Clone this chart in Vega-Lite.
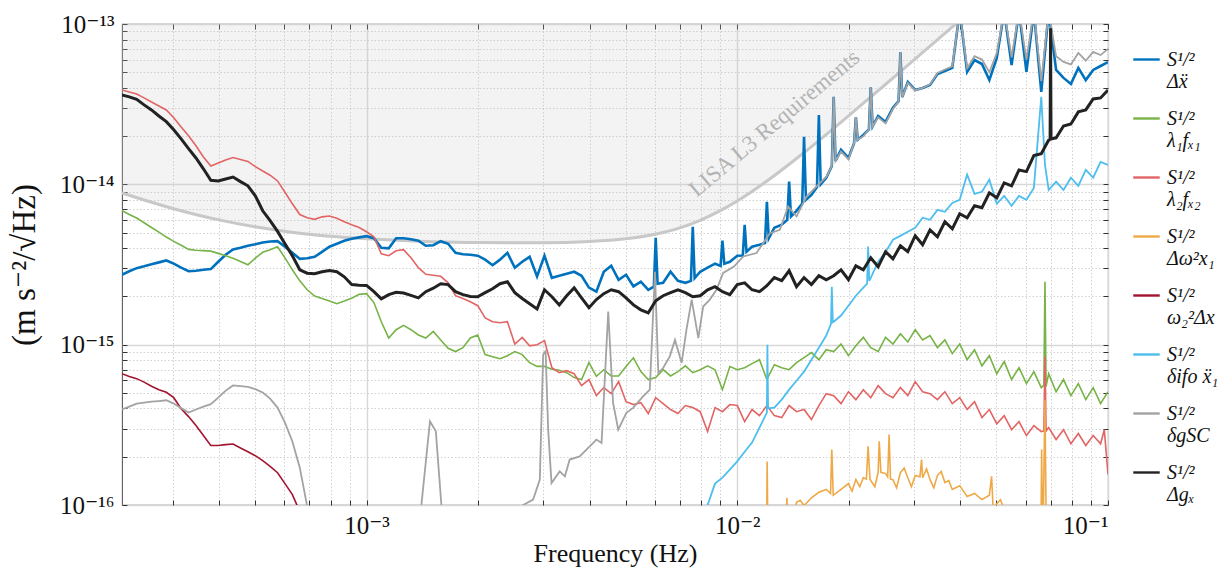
{
"$schema": "https://vega.github.io/schema/vega-lite/v6.json",
"width": 986, "height": 481,
"autosize": "none",
"padding": {"left": 122, "top": 24, "right": 121, "bottom": 64},
"background": "white",
"config": {
  "view": {"stroke": "#5c5c5c", "strokeWidth": 1.1},
  "font": "'Liberation Serif', 'DejaVu Serif', serif",
  "axis": {"labelFont": "'Liberation Serif', 'DejaVu Serif', serif", "titleFont": "'Liberation Serif', 'DejaVu Serif', serif", "titleFontWeight": "normal", "labelColor": "#111111", "titleColor": "#111111"}
},
"datasets": {
"req": [{"f":2.19e-4,"v":8.83e-15},{"f":2.5e-4,"v":8.01e-15},{"f":3e-4,"v":7.07e-15},{"f":3.5e-4,"v":6.44e-15},{"f":4e-4,"v":6.0e-15},{"f":5e-4,"v":5.43e-15},{"f":6e-4,"v":5.10e-15},{"f":7e-4,"v":4.89e-15},{"f":8e-4,"v":4.74e-15},{"f":1e-3,"v":4.57e-15},{"f":1.5e-3,"v":4.39e-15},{"f":2e-3,"v":4.335e-15},{"f":3e-3,"v":4.32e-15},{"f":4e-3,"v":4.395e-15},{"f":5e-3,"v":4.57e-15},{"f":6e-3,"v":4.88e-15},{"f":7e-3,"v":5.35e-15},{"f":8e-3,"v":6.01e-15},{"f":9e-3,"v":6.85e-15},{"f":1e-2,"v":7.87e-15},{"f":1.2e-2,"v":1.045e-14},{"f":1.5e-2,"v":1.551e-14},{"f":1.75e-2,"v":2.074e-14},{"f":2e-2,"v":2.686e-14},{"f":2.25e-2,"v":3.383e-14},{"f":2.5e-2,"v":4.165e-14},{"f":2.75e-2,"v":5.03e-14},{"f":3e-2,"v":5.98e-14},{"f":3.25e-2,"v":7.01e-14},{"f":3.5e-2,"v":8.13e-14},{"f":3.75e-2,"v":9.33e-14},{"f":4e-2,"v":1.0615e-13},{"f":4.5e-2,"v":1.343e-13}],
"dx": [{"f":2.188e-4,"v":2.73e-15},{"f":2.291e-4,"v":2.87e-15},{"f":2.399e-4,"v":3.00e-15},{"f":2.512e-4,"v":3.08e-15},{"f":2.630e-4,"v":3.17e-15},{"f":2.754e-4,"v":3.26e-15},{"f":2.884e-4,"v":3.35e-15},{"f":3.020e-4,"v":3.20e-15},{"f":3.162e-4,"v":3.02e-15},{"f":3.311e-4,"v":2.87e-15},{"f":3.467e-4,"v":2.89e-15},{"f":3.631e-4,"v":2.93e-15},{"f":3.802e-4,"v":2.96e-15},{"f":3.981e-4,"v":3.29e-15},{"f":4.169e-4,"v":3.64e-15},{"f":4.365e-4,"v":3.92e-15},{"f":4.571e-4,"v":4.02e-15},{"f":4.786e-4,"v":4.14e-15},{"f":5.012e-4,"v":4.23e-15},{"f":5.248e-4,"v":4.34e-15},{"f":5.495e-4,"v":4.40e-15},{"f":5.754e-4,"v":4.42e-15},{"f":6.026e-4,"v":4.08e-15},{"f":6.310e-4,"v":3.74e-15},{"f":6.607e-4,"v":3.43e-15},{"f":6.918e-4,"v":3.46e-15},{"f":7.244e-4,"v":3.53e-15},{"f":7.586e-4,"v":3.79e-15},{"f":7.943e-4,"v":4.08e-15},{"f":8.318e-4,"v":4.26e-15},{"f":8.710e-4,"v":4.45e-15},{"f":9.120e-4,"v":4.58e-15},{"f":9.550e-4,"v":4.67e-15},{"f":1.000e-3,"v":4.75e-15},{"f":1.047e-3,"v":4.61e-15},{"f":1.096e-3,"v":4.02e-15},{"f":1.148e-3,"v":3.99e-15},{"f":1.202e-3,"v":4.61e-15},{"f":1.259e-3,"v":4.61e-15},{"f":1.318e-3,"v":4.54e-15},{"f":1.380e-3,"v":4.45e-15},{"f":1.445e-3,"v":4.14e-15},{"f":1.514e-3,"v":4.17e-15},{"f":1.585e-3,"v":4.42e-15},{"f":1.660e-3,"v":4.26e-15},{"f":1.738e-3,"v":3.74e-15},{"f":1.820e-3,"v":3.66e-15},{"f":1.905e-3,"v":3.64e-15},{"f":1.995e-3,"v":3.59e-15},{"f":2.089e-3,"v":3.39e-15},{"f":2.188e-3,"v":3.13e-15},{"f":2.291e-3,"v":3.39e-15},{"f":2.399e-3,"v":3.74e-15},{"f":2.512e-3,"v":3.02e-15},{"f":2.630e-3,"v":3.29e-15},{"f":2.754e-3,"v":3.53e-15},{"f":2.884e-3,"v":2.66e-15},{"f":3.020e-3,"v":3.59e-15},{"f":3.162e-3,"v":2.61e-15},{"f":3.311e-3,"v":2.69e-15},{"f":3.467e-3,"v":2.77e-15},{"f":3.631e-3,"v":2.85e-15},{"f":3.802e-3,"v":2.69e-15},{"f":3.981e-3,"v":2.27e-15},{"f":4.169e-3,"v":2.14e-15},{"f":4.365e-3,"v":2.85e-15},{"f":4.571e-3,"v":3.11e-15},{"f":4.786e-3,"v":2.54e-15},{"f":5.012e-3,"v":2.73e-15},{"f":5.248e-3,"v":2.31e-15},{"f":5.495e-3,"v":2.47e-15},{"f":5.754e-3,"v":2.20e-15},{"f":5.957e-3,"v":2.3e-15},{"f":6.026e-3,"v":4.64e-15},{"f":6.096e-3,"v":2.4e-15},{"f":6.310e-3,"v":2.43e-15},{"f":6.607e-3,"v":2.85e-15},{"f":6.918e-3,"v":2.50e-15},{"f":7.244e-3,"v":2.43e-15},{"f":7.499e-3,"v":2.5e-15},{"f":7.586e-3,"v":5.43e-15},{"f":7.674e-3,"v":2.6e-15},{"f":7.943e-3,"v":2.85e-15},{"f":8.318e-3,"v":3.02e-15},{"f":8.710e-3,"v":3.20e-15},{"f":9.016e-3,"v":3.1e-15},{"f":9.120e-3,"v":4.45e-15},{"f":9.226e-3,"v":3.2e-15},{"f":9.550e-3,"v":3.29e-15},{"f":1.000e-2,"v":3.59e-15},{"f":1.035e-2,"v":3.6e-15},{"f":1.047e-2,"v":5.59e-15},{"f":1.059e-2,"v":3.8e-15},{"f":1.096e-2,"v":4.08e-15},{"f":1.148e-2,"v":4.20e-15},{"f":1.188e-2,"v":4.3e-15},{"f":1.202e-2,"v":7.78e-15},{"f":1.216e-2,"v":4.6e-15},{"f":1.259e-2,"v":5.36e-15},{"f":1.318e-2,"v":5.6e-15},{"f":1.364e-2,"v":6.0e-15},{"f":1.380e-2,"v":1.04e-14},{"f":1.396e-2,"v":6.3e-15},{"f":1.445e-2,"v":6.83e-15},{"f":1.497e-2,"v":7.6e-15},{"f":1.514e-2,"v":1.98e-14},{"f":1.532e-2,"v":8.0e-15},{"f":1.585e-2,"v":8.60e-15},{"f":1.641e-2,"v":9.6e-15},{"f":1.660e-2,"v":2.71e-14},{"f":1.679e-2,"v":1.0e-14},{"f":1.738e-2,"v":1.10e-14},{"f":1.799e-2,"v":1.3e-14},{"f":1.820e-2,"v":3.51e-14},{"f":1.841e-2,"v":1.4e-14},{"f":1.905e-2,"v":1.64e-14},{"f":1.995e-2,"v":1.46e-14},{"f":2.065e-2,"v":1.8e-14},{"f":2.089e-2,"v":2.63e-14},{"f":2.113e-2,"v":1.9e-14},{"f":2.188e-2,"v":2.03e-14},{"f":2.265e-2,"v":2.2e-14},{"f":2.291e-2,"v":4.03e-14},{"f":2.318e-2,"v":2.3e-14},{"f":2.399e-2,"v":2.67e-14},{"f":2.512e-2,"v":2.45e-14},{"f":2.630e-2,"v":3.00e-14},{"f":2.723e-2,"v":3.3e-14},{"f":2.754e-2,"v":6.69e-14},{"f":2.786e-2,"v":3.5e-14},{"f":2.884e-2,"v":4.35e-14},{"f":3.020e-2,"v":3.88e-14},{"f":3.162e-2,"v":3.99e-14},{"f":3.311e-2,"v":4.17e-14},{"f":3.467e-2,"v":4.88e-14},{"f":3.631e-2,"v":5.09e-14},{"f":3.802e-2,"v":5.32e-14},{"f":3.981e-2,"v":1.2e-13},{"f":4.169e-2,"v":5.03e-14},{"f":4.365e-2,"v":5.96e-14},{"f":4.571e-2,"v":5.63e-14},{"f":4.786e-2,"v":4.47e-14},{"f":5.012e-2,"v":6.14e-14},{"f":5.248e-2,"v":1.2e-13},{"f":5.495e-2,"v":5.55e-14},{"f":5.754e-2,"v":1.2e-13},{"f":6.026e-2,"v":5.03e-14},{"f":6.310e-2,"v":1.2e-13},{"f":6.607e-2,"v":3.77e-14},{"f":6.918e-2,"v":1.2e-13},{"f":7.244e-2,"v":5.17e-14},{"f":7.586e-2,"v":4.61e-14},{"f":7.943e-2,"v":4.23e-14},{"f":8.318e-2,"v":5.32e-14},{"f":8.710e-2,"v":4.47e-14},{"f":9.120e-2,"v":5.17e-14},{"f":9.550e-2,"v":5.47e-14},{"f":1.000e-1,"v":5.79e-14}],
"l1": [{"f":2.188e-4,"v":6.86e-15},{"f":2.291e-4,"v":6.48e-15},{"f":2.399e-4,"v":6.16e-15},{"f":2.512e-4,"v":5.76e-15},{"f":2.630e-4,"v":5.38e-15},{"f":2.754e-4,"v":5.03e-15},{"f":2.884e-4,"v":4.69e-15},{"f":3.020e-4,"v":4.41e-15},{"f":3.162e-4,"v":4.17e-15},{"f":3.311e-4,"v":3.93e-15},{"f":3.467e-4,"v":3.88e-15},{"f":3.631e-4,"v":3.86e-15},{"f":3.802e-4,"v":3.83e-15},{"f":3.981e-4,"v":3.71e-15},{"f":4.169e-4,"v":3.59e-15},{"f":4.365e-4,"v":3.46e-15},{"f":4.571e-4,"v":3.30e-15},{"f":4.786e-4,"v":3.15e-15},{"f":5.012e-4,"v":3.46e-15},{"f":5.248e-4,"v":3.77e-15},{"f":5.495e-4,"v":3.91e-15},{"f":5.754e-4,"v":4.08e-15},{"f":6.026e-4,"v":3.48e-15},{"f":6.310e-4,"v":2.93e-15},{"f":6.607e-4,"v":2.50e-15},{"f":6.918e-4,"v":2.20e-15},{"f":7.244e-4,"v":2.01e-15},{"f":7.586e-4,"v":1.94e-15},{"f":7.943e-4,"v":1.87e-15},{"f":8.318e-4,"v":1.80e-15},{"f":8.710e-4,"v":1.87e-15},{"f":9.120e-4,"v":1.95e-15},{"f":9.550e-4,"v":2.06e-15},{"f":1.000e-3,"v":2.08e-15},{"f":1.047e-3,"v":1.83e-15},{"f":1.096e-3,"v":1.39e-15},{"f":1.148e-3,"v":1.10e-15},{"f":1.202e-3,"v":1.24e-15},{"f":1.259e-3,"v":1.32e-15},{"f":1.318e-3,"v":1.24e-15},{"f":1.380e-3,"v":1.15e-15},{"f":1.445e-3,"v":1.10e-15},{"f":1.514e-3,"v":1.21e-15},{"f":1.585e-3,"v":1.07e-15},{"f":1.660e-3,"v":9.50e-16},{"f":1.738e-3,"v":9.06e-16},{"f":1.820e-3,"v":9.58e-16},{"f":1.905e-3,"v":1.10e-15},{"f":1.995e-3,"v":1.15e-15},{"f":2.089e-3,"v":8.67e-16},{"f":2.188e-3,"v":8.41e-16},{"f":2.291e-3,"v":8.17e-16},{"f":2.399e-3,"v":8.54e-16},{"f":2.512e-3,"v":9.06e-16},{"f":2.630e-3,"v":8.67e-16},{"f":2.754e-3,"v":7.72e-16},{"f":2.884e-3,"v":7.32e-16},{"f":3.020e-3,"v":7.32e-16},{"f":3.162e-3,"v":7.03e-16},{"f":3.311e-3,"v":6.93e-16},{"f":3.467e-3,"v":6.69e-16},{"f":3.631e-3,"v":6.23e-16},{"f":3.802e-3,"v":6.06e-16},{"f":3.981e-3,"v":7.72e-16},{"f":4.169e-3,"v":6.35e-16},{"f":4.365e-3,"v":6.98e-16},{"f":4.571e-3,"v":6.38e-16},{"f":4.786e-3,"v":6.38e-16},{"f":5.012e-3,"v":7.30e-16},{"f":5.248e-3,"v":8.28e-16},{"f":5.495e-3,"v":6.79e-16},{"f":5.754e-3,"v":6.06e-16},{"f":6.026e-3,"v":6.23e-16},{"f":6.310e-3,"v":6.98e-16},{"f":6.607e-3,"v":6.38e-16},{"f":6.918e-3,"v":6.79e-16},{"f":7.244e-3,"v":7.38e-16},{"f":7.586e-3,"v":6.69e-16},{"f":7.943e-3,"v":6.98e-16},{"f":8.318e-3,"v":7.38e-16},{"f":8.710e-3,"v":6.98e-16},{"f":9.120e-3,"v":5.24e-16},{"f":9.550e-3,"v":7.30e-16},{"f":1.000e-2,"v":6.98e-16},{"f":1.047e-2,"v":7.18e-16},{"f":1.096e-2,"v":7.62e-16},{"f":1.148e-2,"v":8.06e-16},{"f":1.202e-2,"v":6.06e-16},{"f":1.259e-2,"v":7.50e-16},{"f":1.318e-2,"v":7.18e-16},{"f":1.380e-2,"v":6.98e-16},{"f":1.445e-2,"v":7.72e-16},{"f":1.514e-2,"v":8.30e-16},{"f":1.585e-2,"v":8.92e-16},{"f":1.660e-2,"v":8.06e-16},{"f":1.738e-2,"v":9.30e-16},{"f":1.820e-2,"v":9.06e-16},{"f":1.905e-2,"v":1.01e-15},{"f":1.995e-2,"v":8.54e-16},{"f":2.089e-2,"v":9.84e-16},{"f":2.188e-2,"v":1.11e-15},{"f":2.291e-2,"v":9.58e-16},{"f":2.399e-2,"v":9.06e-16},{"f":2.512e-2,"v":1.11e-15},{"f":2.630e-2,"v":1.01e-15},{"f":2.754e-2,"v":1.17e-15},{"f":2.884e-2,"v":1.04e-15},{"f":3.020e-2,"v":1.24e-15},{"f":3.162e-2,"v":1.07e-15},{"f":3.311e-2,"v":1.14e-15},{"f":3.467e-2,"v":9.58e-16},{"f":3.631e-2,"v":1.07e-15},{"f":3.802e-2,"v":8.79e-16},{"f":3.981e-2,"v":1.01e-15},{"f":4.169e-2,"v":8.06e-16},{"f":4.365e-2,"v":9.30e-16},{"f":4.571e-2,"v":7.38e-16},{"f":4.786e-2,"v":8.54e-16},{"f":5.012e-2,"v":6.59e-16},{"f":5.248e-2,"v":7.84e-16},{"f":5.495e-2,"v":6.06e-16},{"f":5.754e-2,"v":7.18e-16},{"f":6.026e-2,"v":5.71e-16},{"f":6.310e-2,"v":6.79e-16},{"f":6.607e-2,"v":5.40e-16},{"f":6.714e-2,"v":5.6e-16},{"f":6.761e-2,"v":2.47e-15},{"f":6.808e-2,"v":5.5e-16},{"f":6.918e-2,"v":6.59e-16},{"f":7.244e-2,"v":5.09e-16},{"f":7.586e-2,"v":6.06e-16},{"f":7.943e-2,"v":4.81e-16},{"f":8.318e-2,"v":5.71e-16},{"f":8.710e-2,"v":4.54e-16},{"f":9.120e-2,"v":5.40e-16},{"f":9.550e-2,"v":4.29e-16},{"f":1.000e-1,"v":5.09e-16}],
"l2": [{"f":2.188e-4,"v":3.88e-14},{"f":2.291e-4,"v":3.77e-14},{"f":2.399e-4,"v":3.66e-14},{"f":2.512e-4,"v":3.46e-14},{"f":2.630e-4,"v":3.26e-14},{"f":2.754e-4,"v":3.08e-14},{"f":2.884e-4,"v":2.91e-14},{"f":3.020e-4,"v":2.60e-14},{"f":3.162e-4,"v":2.28e-14},{"f":3.311e-4,"v":2.01e-14},{"f":3.467e-4,"v":1.74e-14},{"f":3.631e-4,"v":1.48e-14},{"f":3.802e-4,"v":1.30e-14},{"f":3.981e-4,"v":1.36e-14},{"f":4.169e-4,"v":1.42e-14},{"f":4.365e-4,"v":1.47e-14},{"f":4.571e-4,"v":1.43e-14},{"f":4.786e-4,"v":1.39e-14},{"f":5.012e-4,"v":1.29e-14},{"f":5.248e-4,"v":1.21e-14},{"f":5.495e-4,"v":1.14e-14},{"f":5.754e-4,"v":1.05e-14},{"f":6.026e-4,"v":8.92e-15},{"f":6.310e-4,"v":7.56e-15},{"f":6.607e-4,"v":6.48e-15},{"f":6.918e-4,"v":6.19e-15},{"f":7.244e-4,"v":6.05e-15},{"f":7.586e-4,"v":6.27e-15},{"f":7.943e-4,"v":6.34e-15},{"f":8.318e-4,"v":6.14e-15},{"f":8.710e-4,"v":5.84e-15},{"f":9.120e-4,"v":5.59e-15},{"f":9.550e-4,"v":5.38e-15},{"f":1.000e-3,"v":5.06e-15},{"f":1.047e-3,"v":4.71e-15},{"f":1.096e-3,"v":3.69e-15},{"f":1.148e-3,"v":3.59e-15},{"f":1.202e-3,"v":3.85e-15},{"f":1.259e-3,"v":3.91e-15},{"f":1.318e-3,"v":3.48e-15},{"f":1.380e-3,"v":3.02e-15},{"f":1.445e-3,"v":2.75e-15},{"f":1.514e-3,"v":2.71e-15},{"f":1.585e-3,"v":2.67e-15},{"f":1.660e-3,"v":2.43e-15},{"f":1.738e-3,"v":2.02e-15},{"f":1.820e-3,"v":1.94e-15},{"f":1.905e-3,"v":1.85e-15},{"f":1.995e-3,"v":1.75e-15},{"f":2.089e-3,"v":1.47e-15},{"f":2.188e-3,"v":1.39e-15},{"f":2.291e-3,"v":1.37e-15},{"f":2.399e-3,"v":1.39e-15},{"f":2.512e-3,"v":1.01e-15},{"f":2.630e-3,"v":1.11e-15},{"f":2.754e-3,"v":9.84e-16},{"f":2.884e-3,"v":1.00e-15},{"f":3.020e-3,"v":1.06e-15},{"f":3.162e-3,"v":7.18e-16},{"f":3.311e-3,"v":6.69e-16},{"f":3.467e-3,"v":6.88e-16},{"f":3.631e-3,"v":6.59e-16},{"f":3.802e-3,"v":5.55e-16},{"f":3.981e-3,"v":6.06e-16},{"f":4.169e-3,"v":4.81e-16},{"f":4.365e-3,"v":5.40e-16},{"f":4.571e-3,"v":4.95e-16},{"f":4.786e-3,"v":5.88e-16},{"f":5.012e-3,"v":4.41e-16},{"f":5.248e-3,"v":4.23e-16},{"f":5.495e-3,"v":4.35e-16},{"f":5.754e-3,"v":3.72e-16},{"f":6.026e-3,"v":4.67e-16},{"f":6.310e-3,"v":4.29e-16},{"f":6.607e-3,"v":3.94e-16},{"f":6.918e-3,"v":3.72e-16},{"f":7.244e-3,"v":4.17e-16},{"f":7.586e-3,"v":4.05e-16},{"f":7.943e-3,"v":3.82e-16},{"f":8.318e-3,"v":2.87e-16},{"f":8.710e-3,"v":4.05e-16},{"f":9.120e-3,"v":3.82e-16},{"f":9.550e-3,"v":4.23e-16},{"f":1.000e-2,"v":4.17e-16},{"f":1.047e-2,"v":3.31e-16},{"f":1.096e-2,"v":3.94e-16},{"f":1.148e-2,"v":3.61e-16},{"f":1.202e-2,"v":4.17e-16},{"f":1.259e-2,"v":3.61e-16},{"f":1.318e-2,"v":3.51e-16},{"f":1.380e-2,"v":4.17e-16},{"f":1.445e-2,"v":3.82e-16},{"f":1.514e-2,"v":3.94e-16},{"f":1.585e-2,"v":3.41e-16},{"f":1.660e-2,"v":4.17e-16},{"f":1.738e-2,"v":4.95e-16},{"f":1.820e-2,"v":4.81e-16},{"f":1.905e-2,"v":4.29e-16},{"f":1.995e-2,"v":5.09e-16},{"f":2.089e-2,"v":4.54e-16},{"f":2.188e-2,"v":5.24e-16},{"f":2.291e-2,"v":4.67e-16},{"f":2.399e-2,"v":5.55e-16},{"f":2.512e-2,"v":4.95e-16},{"f":2.630e-2,"v":4.67e-16},{"f":2.754e-2,"v":5.40e-16},{"f":2.884e-2,"v":4.81e-16},{"f":3.020e-2,"v":5.88e-16},{"f":3.162e-2,"v":5.09e-16},{"f":3.311e-2,"v":4.95e-16},{"f":3.467e-2,"v":4.54e-16},{"f":3.631e-2,"v":5.09e-16},{"f":3.802e-2,"v":4.29e-16},{"f":3.981e-2,"v":4.67e-16},{"f":4.169e-2,"v":3.94e-16},{"f":4.365e-2,"v":4.41e-16},{"f":4.571e-2,"v":3.51e-16},{"f":4.786e-2,"v":3.94e-16},{"f":5.012e-2,"v":3.21e-16},{"f":5.248e-2,"v":3.61e-16},{"f":5.495e-2,"v":2.95e-16},{"f":5.754e-2,"v":3.31e-16},{"f":6.026e-2,"v":2.71e-16},{"f":6.310e-2,"v":3.13e-16},{"f":6.607e-2,"v":2.87e-16},{"f":6.714e-2,"v":2.9e-16},{"f":6.761e-2,"v":8.45e-16},{"f":6.808e-2,"v":2.9e-16},{"f":6.918e-2,"v":3.04e-16},{"f":7.244e-2,"v":2.56e-16},{"f":7.586e-2,"v":2.95e-16},{"f":7.943e-2,"v":2.41e-16},{"f":8.318e-2,"v":2.79e-16},{"f":8.710e-2,"v":2.35e-16},{"f":9.120e-2,"v":2.71e-16},{"f":9.550e-2,"v":2.41e-16},{"f":9.772e-2,"v":2.95e-16},{"f":1.000e-1,"v":1.55e-16}],
"dw": [{"f":1.17e-2,"v":3e-17},{"f":1.199e-2,"v":5e-17},{"f":1.204e-2,"v":1.87e-16},{"f":1.211e-2,"v":5e-17},{"f":1.349e-2,"v":6e-17},{"f":1.361e-2,"v":1.11e-16},{"f":1.374e-2,"v":6e-17},{"f":1.445e-2,"v":1.04e-16},{"f":1.479e-2,"v":1.07e-16},{"f":1.514e-2,"v":9.9e-17},{"f":1.585e-2,"v":1.11e-16},{"f":1.660e-2,"v":1.20e-16},{"f":1.738e-2,"v":1.25e-16},{"f":1.785e-2,"v":1.18e-16},{"f":1.799e-2,"v":2.22e-16},{"f":1.815e-2,"v":1.15e-16},{"f":1.905e-2,"v":1.25e-16},{"f":1.995e-2,"v":1.36e-16},{"f":2.04e-2,"v":1.22e-16},{"f":2.089e-2,"v":1.44e-16},{"f":2.14e-2,"v":1.30e-16},{"f":2.188e-2,"v":1.48e-16},{"f":2.23e-2,"v":1.45e-16},{"f":2.254e-2,"v":2.32e-16},{"f":2.28e-2,"v":1.45e-16},{"f":2.35e-2,"v":1.30e-16},{"f":2.399e-2,"v":1.60e-16},{"f":2.415e-2,"v":2.50e-16},{"f":2.44e-2,"v":1.60e-16},{"f":2.512e-2,"v":1.57e-16},{"f":2.545e-2,"v":1.50e-16},{"f":2.568e-2,"v":2.75e-16},{"f":2.59e-2,"v":1.45e-16},{"f":2.630e-2,"v":1.44e-16},{"f":2.69e-2,"v":1.28e-16},{"f":2.754e-2,"v":1.59e-16},{"f":2.82e-2,"v":1.70e-16},{"f":2.884e-2,"v":1.48e-16},{"f":2.95e-2,"v":1.30e-16},{"f":3.020e-2,"v":1.53e-16},{"f":3.11e-2,"v":1.5e-16},{"f":3.141e-2,"v":1.92e-16},{"f":3.162e-2,"v":1.48e-16},{"f":3.24e-2,"v":1.68e-16},{"f":3.311e-2,"v":1.44e-16},{"f":3.39e-2,"v":1.28e-16},{"f":3.467e-2,"v":1.53e-16},{"f":3.55e-2,"v":1.62e-16},{"f":3.631e-2,"v":1.38e-16},{"f":3.72e-2,"v":1.42e-16},{"f":3.802e-2,"v":1.25e-16},{"f":3.981e-2,"v":1.32e-16},{"f":4.169e-2,"v":1.13e-16},{"f":4.365e-2,"v":1.18e-16},{"f":4.571e-2,"v":1.08e-16},{"f":4.786e-2,"v":1.15e-16},{"f":4.853e-2,"v":1.51e-16},{"f":4.898e-2,"v":9.6e-17},{"f":5.129e-2,"v":1.08e-16},{"f":5.248e-2,"v":9.4e-17},{"f":5.495e-2,"v":3e-17},{"f":6.577e-2,"v":3e-17},{"f":6.622e-2,"v":2.22e-16},{"f":6.668e-2,"v":5e-17},{"f":6.761e-2,"v":4.54e-16},{"f":6.823e-2,"v":5e-17},{"f":6.918e-2,"v":3e-17},{"f":1.000e-1,"v":3e-17}],
"w2": [{"f":2.188e-4,"v":6.59e-16},{"f":2.291e-4,"v":6.34e-16},{"f":2.399e-4,"v":6.14e-16},{"f":2.512e-4,"v":5.84e-16},{"f":2.630e-4,"v":5.51e-16},{"f":2.754e-4,"v":5.24e-16},{"f":2.884e-4,"v":5.05e-16},{"f":3.020e-4,"v":4.67e-16},{"f":3.162e-4,"v":3.99e-16},{"f":3.311e-4,"v":3.56e-16},{"f":3.467e-4,"v":3.13e-16},{"f":3.631e-4,"v":2.71e-16},{"f":3.802e-4,"v":2.35e-16},{"f":3.981e-4,"v":2.35e-16},{"f":4.169e-4,"v":2.38e-16},{"f":4.365e-4,"v":2.40e-16},{"f":4.571e-4,"v":2.27e-16},{"f":4.786e-4,"v":2.15e-16},{"f":5.012e-4,"v":2.03e-16},{"f":5.248e-4,"v":1.89e-16},{"f":5.495e-4,"v":1.74e-16},{"f":5.754e-4,"v":1.59e-16},{"f":6.026e-4,"v":1.36e-16},{"f":6.310e-4,"v":1.16e-16},{"f":6.607e-4,"v":9.1e-17},{"f":6.918e-4,"v":6e-17}],
"ifo": [{"f":8.128e-3,"v":8e-17},{"f":8.318e-3,"v":1.0e-16},{"f":8.710e-3,"v":1.36e-16},{"f":9.120e-3,"v":1.48e-16},{"f":9.550e-3,"v":1.66e-16},{"f":1.000e-2,"v":1.87e-16},{"f":1.047e-2,"v":2.15e-16},{"f":1.096e-2,"v":2.45e-16},{"f":1.148e-2,"v":3.04e-16},{"f":1.202e-2,"v":3.77e-16},{"f":1.206e-2,"v":1.0e-15},{"f":1.211e-2,"v":4.0e-16},{"f":1.259e-2,"v":4.05e-16},{"f":1.318e-2,"v":4.54e-16},{"f":1.380e-2,"v":5.24e-16},{"f":1.445e-2,"v":5.96e-16},{"f":1.514e-2,"v":6.79e-16},{"f":1.585e-2,"v":8.06e-16},{"f":1.660e-2,"v":9.58e-16},{"f":1.738e-2,"v":1.14e-15},{"f":1.790e-2,"v":1.35e-15},{"f":1.799e-2,"v":2.3e-15},{"f":1.810e-2,"v":1.38e-15},{"f":1.820e-2,"v":1.39e-15},{"f":1.905e-2,"v":1.52e-15},{"f":1.995e-2,"v":1.75e-15},{"f":2.089e-2,"v":2.02e-15},{"f":2.188e-2,"v":2.27e-15},{"f":2.24e-2,"v":2.4e-15},{"f":2.254e-2,"v":4.1e-15},{"f":2.27e-2,"v":2.5e-15},{"f":2.291e-2,"v":2.61e-15},{"f":2.399e-2,"v":3.29e-15},{"f":2.512e-2,"v":3.79e-15},{"f":2.630e-2,"v":4.51e-15},{"f":2.754e-2,"v":4.77e-15},{"f":2.884e-2,"v":5.06e-15},{"f":3.020e-2,"v":5.36e-15},{"f":3.162e-2,"v":6.19e-15},{"f":3.311e-2,"v":6.01e-15},{"f":3.467e-2,"v":6.93e-15},{"f":3.631e-2,"v":6.74e-15},{"f":3.802e-2,"v":7.66e-15},{"f":3.981e-2,"v":8.00e-15},{"f":4.169e-2,"v":1.15e-14},{"f":4.365e-2,"v":8.72e-15},{"f":4.571e-2,"v":8.98e-15},{"f":4.786e-2,"v":1.07e-14},{"f":5.012e-2,"v":7.56e-15},{"f":5.248e-2,"v":8.46e-15},{"f":5.495e-2,"v":7.35e-15},{"f":5.754e-2,"v":8.46e-15},{"f":6.026e-2,"v":8.00e-15},{"f":6.310e-2,"v":9.50e-15},{"f":6.607e-2,"v":3.51e-14},{"f":6.761e-2,"v":1.32e-14},{"f":6.918e-2,"v":9.22e-15},{"f":7.244e-2,"v":1.04e-14},{"f":7.586e-2,"v":9.22e-15},{"f":7.943e-2,"v":1.10e-14},{"f":8.318e-2,"v":9.77e-15},{"f":8.710e-2,"v":1.23e-14},{"f":9.120e-2,"v":1.10e-14},{"f":9.550e-2,"v":1.38e-14},{"f":1.000e-1,"v":1.32e-14}],
"sc": [{"f":2.188e-4,"v":3.94e-16},{"f":2.291e-4,"v":4.11e-16},{"f":2.399e-4,"v":4.29e-16},{"f":2.512e-4,"v":4.35e-16},{"f":2.630e-4,"v":4.41e-16},{"f":2.754e-4,"v":4.45e-16},{"f":2.884e-4,"v":4.50e-16},{"f":3.020e-4,"v":4.29e-16},{"f":3.162e-4,"v":4.02e-16},{"f":3.311e-4,"v":3.77e-16},{"f":3.467e-4,"v":3.94e-16},{"f":3.631e-4,"v":4.11e-16},{"f":3.802e-4,"v":4.26e-16},{"f":3.981e-4,"v":4.67e-16},{"f":4.169e-4,"v":5.17e-16},{"f":4.365e-4,"v":5.57e-16},{"f":4.571e-4,"v":5.51e-16},{"f":4.786e-4,"v":5.46e-16},{"f":5.012e-4,"v":5.28e-16},{"f":5.248e-4,"v":5.03e-16},{"f":5.495e-4,"v":4.61e-16},{"f":5.754e-4,"v":4.05e-16},{"f":6.026e-4,"v":3.26e-16},{"f":6.310e-4,"v":2.49e-16},{"f":6.607e-4,"v":1.71e-16},{"f":6.918e-4,"v":9.8e-17},{"f":7.244e-4,"v":5e-17},{"f":1.259e-3,"v":1e-17},{"f":1.374e-3,"v":5e-17},{"f":1.406e-3,"v":1e-16},{"f":1.483e-3,"v":3.33e-16},{"f":1.538e-3,"v":2.88e-16},{"f":1.592e-3,"v":1e-16},{"f":1.629e-3,"v":5e-17},{"f":1.995e-3,"v":1e-17},{"f":2.570e-3,"v":5e-17},{"f":2.645e-3,"v":1e-16},{"f":2.814e-3,"v":1.08e-16},{"f":2.934e-3,"v":1.44e-16},{"f":2.995e-3,"v":8.67e-16},{"f":3.041e-3,"v":9.10e-16},{"f":3.090e-3,"v":2.95e-16},{"f":3.155e-3,"v":1.37e-16},{"f":3.319e-3,"v":1.62e-16},{"f":3.428e-3,"v":1.51e-16},{"f":3.532e-3,"v":1.92e-16},{"f":3.758e-3,"v":2.01e-16},{"f":4.000e-3,"v":2.32e-16},{"f":4.169e-3,"v":2.56e-16},{"f":4.305e-3,"v":2.44e-16},{"f":4.487e-3,"v":1.61e-15},{"f":4.624e-3,"v":4.33e-16},{"f":4.775e-3,"v":2.95e-16},{"f":5.023e-3,"v":3.76e-16},{"f":5.236e-3,"v":4.03e-16},{"f":5.572e-3,"v":4.76e-16},{"f":5.808e-3,"v":5.24e-16},{"f":5.998e-3,"v":2.85e-15},{"f":6.124e-3,"v":6.67e-16},{"f":6.310e-3,"v":7.15e-16},{"f":6.577e-3,"v":8.45e-16},{"f":6.792e-3,"v":1.07e-15},{"f":7.079e-3,"v":7.69e-16},{"f":7.295e-3,"v":1.24e-15},{"f":7.534e-3,"v":1.91e-15},{"f":7.852e-3,"v":1.10e-15},{"f":8.091e-3,"v":1.73e-15},{"f":8.433e-3,"v":1.91e-15},{"f":8.790e-3,"v":2.20e-15},{"f":9.162e-3,"v":2.80e-15},{"f":9.795e-3,"v":3.07e-15},{"f":1.038e-2,"v":3.55e-15},{"f":1.127e-2,"v":3.73e-15},{"f":1.225e-2,"v":4.96e-15},{"f":1.303e-2,"v":5.20e-15},{"f":1.371e-2,"v":7.27e-15},{"f":1.445e-2,"v":6.30e-15},{"f":1.538e-2,"v":8.39e-15},{"f":1.637e-2,"v":9.70e-15},{"f":1.742e-2,"v":1.12e-14},{"f":1.799e-2,"v":1.3e-14},{"f":1.820e-2,"v":3.51e-14},{"f":1.841e-2,"v":1.4e-14},{"f":1.905e-2,"v":1.60e-14},{"f":1.995e-2,"v":1.43e-14},{"f":2.065e-2,"v":1.8e-14},{"f":2.089e-2,"v":2.63e-14},{"f":2.113e-2,"v":1.9e-14},{"f":2.188e-2,"v":1.99e-14},{"f":2.265e-2,"v":2.2e-14},{"f":2.291e-2,"v":4.03e-14},{"f":2.318e-2,"v":2.3e-14},{"f":2.399e-2,"v":2.62e-14},{"f":2.512e-2,"v":2.40e-14},{"f":2.630e-2,"v":2.95e-14},{"f":2.723e-2,"v":3.3e-14},{"f":2.754e-2,"v":6.69e-14},{"f":2.786e-2,"v":3.5e-14},{"f":2.884e-2,"v":4.30e-14},{"f":3.020e-2,"v":3.85e-14},{"f":3.162e-2,"v":3.99e-14},{"f":3.311e-2,"v":4.20e-14},{"f":3.467e-2,"v":4.95e-14},{"f":3.631e-2,"v":5.20e-14},{"f":3.802e-2,"v":5.45e-14},{"f":3.981e-2,"v":1.2e-13},{"f":4.169e-2,"v":5.3e-14},{"f":4.365e-2,"v":6.3e-14},{"f":4.571e-2,"v":6.0e-14},{"f":4.786e-2,"v":5.0e-14},{"f":5.012e-2,"v":6.6e-14},{"f":5.248e-2,"v":1.2e-13},{"f":5.495e-2,"v":6.2e-14},{"f":5.754e-2,"v":1.2e-13},{"f":6.026e-2,"v":6.0e-14},{"f":6.310e-2,"v":1.2e-13},{"f":6.607e-2,"v":4.4e-14},{"f":6.918e-2,"v":1.2e-13},{"f":7.244e-2,"v":6.3e-14},{"f":7.586e-2,"v":5.8e-14},{"f":7.943e-2,"v":5.6e-14},{"f":8.318e-2,"v":6.6e-14},{"f":8.710e-2,"v":5.9e-14},{"f":9.120e-2,"v":6.7e-14},{"f":9.550e-2,"v":6.4e-14},{"f":1.000e-1,"v":7.0e-14}],
"gx": [{"f":2.188e-4,"v":3.61e-14},{"f":2.291e-4,"v":3.51e-14},{"f":2.399e-4,"v":3.39e-14},{"f":2.512e-4,"v":3.13e-14},{"f":2.630e-4,"v":2.91e-14},{"f":2.754e-4,"v":2.67e-14},{"f":2.884e-4,"v":2.46e-14},{"f":3.020e-4,"v":2.19e-14},{"f":3.162e-4,"v":1.92e-14},{"f":3.311e-4,"v":1.67e-14},{"f":3.467e-4,"v":1.46e-14},{"f":3.631e-4,"v":1.25e-14},{"f":3.802e-4,"v":1.06e-14},{"f":3.981e-4,"v":1.05e-14},{"f":4.169e-4,"v":1.08e-14},{"f":4.365e-4,"v":1.11e-14},{"f":4.571e-4,"v":1.04e-14},{"f":4.786e-4,"v":9.79e-15},{"f":5.012e-4,"v":8.48e-15},{"f":5.248e-4,"v":6.84e-15},{"f":5.495e-4,"v":5.93e-15},{"f":5.754e-4,"v":5.09e-15},{"f":6.026e-4,"v":4.26e-15},{"f":6.310e-4,"v":3.58e-15},{"f":6.607e-4,"v":2.93e-15},{"f":6.918e-4,"v":2.79e-15},{"f":7.244e-4,"v":2.77e-15},{"f":7.586e-4,"v":2.85e-15},{"f":7.943e-4,"v":2.90e-15},{"f":8.318e-4,"v":2.85e-15},{"f":8.710e-4,"v":2.65e-15},{"f":9.120e-4,"v":2.37e-15},{"f":9.550e-4,"v":2.35e-15},{"f":1.000e-3,"v":2.34e-15},{"f":1.047e-3,"v":2.14e-15},{"f":1.096e-3,"v":1.93e-15},{"f":1.148e-3,"v":2.05e-15},{"f":1.202e-3,"v":2.12e-15},{"f":1.259e-3,"v":2.10e-15},{"f":1.318e-3,"v":2.03e-15},{"f":1.380e-3,"v":1.96e-15},{"f":1.445e-3,"v":2.14e-15},{"f":1.514e-3,"v":2.25e-15},{"f":1.585e-3,"v":2.40e-15},{"f":1.660e-3,"v":2.37e-15},{"f":1.738e-3,"v":2.14e-15},{"f":1.820e-3,"v":2.05e-15},{"f":1.905e-3,"v":2.00e-15},{"f":1.995e-3,"v":1.99e-15},{"f":2.089e-3,"v":2.11e-15},{"f":2.188e-3,"v":2.23e-15},{"f":2.291e-3,"v":2.40e-15},{"f":2.399e-3,"v":2.47e-15},{"f":2.512e-3,"v":2.11e-15},{"f":2.630e-3,"v":1.94e-15},{"f":2.754e-3,"v":1.80e-15},{"f":2.884e-3,"v":1.67e-15},{"f":3.020e-3,"v":2.20e-15},{"f":3.162e-3,"v":1.99e-15},{"f":3.311e-3,"v":1.77e-15},{"f":3.467e-3,"v":2.02e-15},{"f":3.631e-3,"v":2.26e-15},{"f":3.802e-3,"v":1.96e-15},{"f":3.981e-3,"v":1.70e-15},{"f":4.169e-3,"v":1.91e-15},{"f":4.365e-3,"v":2.08e-15},{"f":4.571e-3,"v":2.20e-15},{"f":4.786e-3,"v":2.14e-15},{"f":5.012e-3,"v":1.96e-15},{"f":5.248e-3,"v":1.77e-15},{"f":5.495e-3,"v":1.65e-15},{"f":5.754e-3,"v":1.58e-15},{"f":6.026e-3,"v":1.88e-15},{"f":6.310e-3,"v":2.02e-15},{"f":6.607e-3,"v":2.11e-15},{"f":6.918e-3,"v":2.20e-15},{"f":7.244e-3,"v":2.11e-15},{"f":7.586e-3,"v":1.99e-15},{"f":7.943e-3,"v":2.02e-15},{"f":8.318e-3,"v":2.20e-15},{"f":8.710e-3,"v":2.30e-15},{"f":9.120e-3,"v":2.14e-15},{"f":9.550e-3,"v":2.05e-15},{"f":1.000e-2,"v":2.37e-15},{"f":1.047e-2,"v":2.43e-15},{"f":1.096e-2,"v":2.20e-15},{"f":1.148e-2,"v":2.14e-15},{"f":1.202e-2,"v":2.33e-15},{"f":1.259e-2,"v":2.62e-15},{"f":1.318e-2,"v":2.51e-15},{"f":1.380e-2,"v":2.89e-15},{"f":1.445e-2,"v":2.30e-15},{"f":1.514e-2,"v":2.62e-15},{"f":1.585e-2,"v":2.37e-15},{"f":1.660e-2,"v":2.69e-15},{"f":1.738e-2,"v":2.54e-15},{"f":1.820e-2,"v":2.69e-15},{"f":1.905e-2,"v":2.93e-15},{"f":1.995e-2,"v":2.54e-15},{"f":2.089e-2,"v":3.10e-15},{"f":2.188e-2,"v":2.93e-15},{"f":2.291e-2,"v":3.48e-15},{"f":2.399e-2,"v":3.06e-15},{"f":2.512e-2,"v":3.80e-15},{"f":2.630e-2,"v":3.43e-15},{"f":2.754e-2,"v":4.14e-15},{"f":2.884e-2,"v":3.80e-15},{"f":3.020e-2,"v":4.78e-15},{"f":3.162e-2,"v":4.20e-15},{"f":3.311e-2,"v":5.20e-15},{"f":3.467e-2,"v":4.71e-15},{"f":3.631e-2,"v":5.84e-15},{"f":3.802e-2,"v":5.28e-15},{"f":3.981e-2,"v":6.55e-15},{"f":4.169e-2,"v":6.18e-15},{"f":4.365e-2,"v":7.35e-15},{"f":4.571e-2,"v":7.14e-15},{"f":4.786e-2,"v":8.85e-15},{"f":5.012e-2,"v":8.24e-15},{"f":5.248e-2,"v":1.02e-14},{"f":5.495e-2,"v":9.79e-15},{"f":5.754e-2,"v":1.23e-14},{"f":6.026e-2,"v":1.20e-14},{"f":6.310e-2,"v":1.51e-14},{"f":6.607e-2,"v":1.55e-14},{"f":6.918e-2,"v":1.89e-14},{"f":6.98e-2,"v":1.9e-14},{"f":7.0e-2,"v":9.4e-14},{"f":7.02e-2,"v":1.92e-14},{"f":7.244e-2,"v":1.95e-14},{"f":7.586e-2,"v":2.31e-14},{"f":7.943e-2,"v":2.38e-14},{"f":8.318e-2,"v":2.83e-14},{"f":8.710e-2,"v":2.91e-14},{"f":9.120e-2,"v":3.41e-14},{"f":9.550e-2,"v":3.46e-14},{"f":1.000e-1,"v":3.88e-14}]
},
"layer": [
 {"layer": [
  {"data": {"name": "req"},
   "mark": {"type": "area", "color": "#c8c8c8", "opacity": 0.22, "clip": true, "interpolate": "monotone"},
   "encoding": {
    "x": {"field": "f", "type": "quantitative", "scale": {"type": "log", "domain": [2.19e-4, 0.1], "nice": false},
      "axis": {"values": [3e-4,4e-4,5e-4,6e-4,7e-4,8e-4,9e-4,1e-3,2e-3,3e-3,4e-3,5e-3,6e-3,7e-3,8e-3,9e-3,1e-2,2e-2,3e-2,4e-2,5e-2,6e-2,7e-2,8e-2,9e-2,1e-1],
        "labelExpr": "abs(datum.value-0.001)<1e-9 ? '10⁻³' : abs(datum.value-0.01)<1e-9 ? '10⁻²' : abs(datum.value-0.1)<1e-9 ? '10⁻¹' : ''",
        "title": "Frequency (Hz)", "titleFontSize": 26, "titlePadding": 2, "labelFontSize": 25, "labelPadding": 13,
        "domain": false, "tickSize": -5, "tickColor": "#333333", "tickWidth": 1,
        "grid": true,
        "gridColor": {"condition": {"test": "abs(log(datum.value)/LN10 - round(log(datum.value)/LN10)) < 0.001", "value": "#d8d8d8"}, "value": "#cccccc"},
        "gridDash": {"condition": {"test": "abs(log(datum.value)/LN10 - round(log(datum.value)/LN10)) < 0.001", "value": [1, 0]}, "value": [1.5, 2]},
        "gridWidth": {"condition": {"test": "abs(log(datum.value)/LN10 - round(log(datum.value)/LN10)) < 0.001", "value": 1.4}, "value": 0.9}}},
    "y": {"field": "v", "type": "quantitative", "scale": {"type": "log", "domain": [1e-16, 1e-13], "nice": false},
      "axis": {"values": [1e-16,2e-16,3e-16,4e-16,5e-16,6e-16,7e-16,8e-16,9e-16,1e-15,2e-15,3e-15,4e-15,5e-15,6e-15,7e-15,8e-15,9e-15,1e-14,2e-14,3e-14,4e-14,5e-14,6e-14,7e-14,8e-14,9e-14,1e-13],
        "labelExpr": "abs(datum.value/1e-13-1)<1e-6 ? '10⁻¹³' : abs(datum.value/1e-14-1)<1e-6 ? '10⁻¹⁴' : abs(datum.value/1e-15-1)<1e-6 ? '10⁻¹⁵' : abs(datum.value/1e-16-1)<1e-6 ? '10⁻¹⁶' : ''",
        "title": "(m s⁻²/√Hz)", "titleFontSize": 33, "titlePadding": 18, "labelFontSize": 25, "labelPadding": 13,
        "domain": false, "tickSize": -5, "tickColor": "#333333", "tickWidth": 1,
        "grid": true,
        "gridColor": {"condition": {"test": "abs(log(datum.value)/LN10 - round(log(datum.value)/LN10)) < 0.001", "value": "#d8d8d8"}, "value": "#cccccc"},
        "gridDash": {"condition": {"test": "abs(log(datum.value)/LN10 - round(log(datum.value)/LN10)) < 0.001", "value": [1, 0]}, "value": [1.5, 2]},
        "gridWidth": {"condition": {"test": "abs(log(datum.value)/LN10 - round(log(datum.value)/LN10)) < 0.001", "value": 1.4}, "value": 0.9}}},
    "y2": {"datum": 1e-13}}},
  {"data": {"name": "req"},
   "mark": {"type": "line", "color": "#c8c8c8", "strokeWidth": 3, "clip": true, "interpolate": "monotone"},
   "encoding": {"x": {"field": "f", "type": "quantitative"}, "y": {"field": "v", "type": "quantitative"}}},
  {"data": {"values": [{"f": 0.0126, "v": 2.4e-14, "t": "LISA L3 Requirements"}]},
   "mark": {"type": "text", "angle": -40, "fontSize": 23, "font": "'Liberation Serif', 'DejaVu Serif', serif", "color": "#b3b3b3"},
   "encoding": {"x": {"field": "f", "type": "quantitative"}, "y": {"field": "v", "type": "quantitative"}, "text": {"field": "t"}}},
  {"data": {"name": "dx"},
   "mark": {"type": "line", "strokeWidth": 2.6, "clip": true},
   "encoding": {"x": {"field": "f", "type": "quantitative"}, "y": {"field": "v", "type": "quantitative"},
    "color": {"datum": "S¹/²(Δẍ)", "type": "nominal",
      "scale": {"domain": ["S¹/²(Δẍ)", "S¹/²(λ₁fₓ₁)", "S¹/²(λ₂fₓ₂)", "S¹/²(Δω²x₁)", "S¹/²(ω₂²Δx)", "S¹/²(δifo ẍ₁)", "S¹/²(δgSC)", "S¹/²(Δgₓ)"],
                "range": ["#0072BD", "#77B347", "#E36464", "#EEA946", "#A2142F", "#4DBEEE", "#A3A3A3", "#222222"]},
      "legend": {"orient": "none", "legendX": 1010, "legendY": 21, "title": null, "symbolType": "stroke", "symbolSize": 700, "symbolStrokeWidth": 2.4,
                 "labelExpr": "[substring(datum.label, 0, 4), substring(datum.label, 5, length(datum.label) - 1)]",
                 "labelFontSize": 20, "labelFont": "'Liberation Serif', 'DejaVu Serif', serif", "labelFontStyle": "italic", "labelColor": "#111111", "rowPadding": 12, "labelOffset": 6, "labelLimit": 200, "padding": 0}}}},
  {"data": {"name": "l1"}, "mark": {"type": "line", "strokeWidth": 1.6, "clip": true},
   "encoding": {"x": {"field": "f", "type": "quantitative"}, "y": {"field": "v", "type": "quantitative"}, "color": {"datum": "S¹/²(λ₁fₓ₁)", "type": "nominal"}}},
  {"data": {"name": "l2"}, "mark": {"type": "line", "strokeWidth": 1.6, "clip": true},
   "encoding": {"x": {"field": "f", "type": "quantitative"}, "y": {"field": "v", "type": "quantitative"}, "color": {"datum": "S¹/²(λ₂fₓ₂)", "type": "nominal"}}},
  {"data": {"name": "dw"}, "mark": {"type": "line", "strokeWidth": 1.6, "clip": true},
   "encoding": {"x": {"field": "f", "type": "quantitative"}, "y": {"field": "v", "type": "quantitative"}, "color": {"datum": "S¹/²(Δω²x₁)", "type": "nominal"}}},
  {"data": {"name": "w2"}, "mark": {"type": "line", "strokeWidth": 1.6, "clip": true},
   "encoding": {"x": {"field": "f", "type": "quantitative"}, "y": {"field": "v", "type": "quantitative"}, "color": {"datum": "S¹/²(ω₂²Δx)", "type": "nominal"}}},
  {"data": {"name": "ifo"}, "mark": {"type": "line", "strokeWidth": 1.8, "clip": true},
   "encoding": {"x": {"field": "f", "type": "quantitative"}, "y": {"field": "v", "type": "quantitative"}, "color": {"datum": "S¹/²(δifo ẍ₁)", "type": "nominal"}}},
  {"data": {"name": "sc"}, "mark": {"type": "line", "strokeWidth": 1.8, "clip": true},
   "encoding": {"x": {"field": "f", "type": "quantitative"}, "y": {"field": "v", "type": "quantitative"}, "color": {"datum": "S¹/²(δgSC)", "type": "nominal"}}},
  {"data": {"name": "gx"}, "mark": {"type": "line", "strokeWidth": 3, "clip": true},
   "encoding": {"x": {"field": "f", "type": "quantitative"}, "y": {"field": "v", "type": "quantitative"}, "color": {"datum": "S¹/²(Δgₓ)", "type": "nominal"}}}
 ]},
 {"data": {"name": "req"},
  "mark": {"type": "line", "opacity": 0, "clip": true},
  "encoding": {
   "x": {"field": "f", "type": "quantitative",
     "axis": {"orient": "top", "values": [3e-4,4e-4,5e-4,6e-4,7e-4,8e-4,9e-4,1e-3,2e-3,3e-3,4e-3,5e-3,6e-3,7e-3,8e-3,9e-3,1e-2,2e-2,3e-2,4e-2,5e-2,6e-2,7e-2,8e-2,9e-2,1e-1],
       "labels": false, "title": null, "grid": false, "domain": false, "tickSize": -5, "tickColor": "#333333"}},
   "y": {"field": "v", "type": "quantitative",
     "axis": {"orient": "right", "values": [1e-16,2e-16,3e-16,4e-16,5e-16,6e-16,7e-16,8e-16,9e-16,1e-15,2e-15,3e-15,4e-15,5e-15,6e-15,7e-15,8e-15,9e-15,1e-14,2e-14,3e-14,4e-14,5e-14,6e-14,7e-14,8e-14,9e-14,1e-13],
       "labels": false, "title": null, "grid": false, "domain": false, "tickSize": -5, "tickColor": "#333333"}}}}
],
"resolve": {"axis": {"x": "independent", "y": "independent"}}
}
